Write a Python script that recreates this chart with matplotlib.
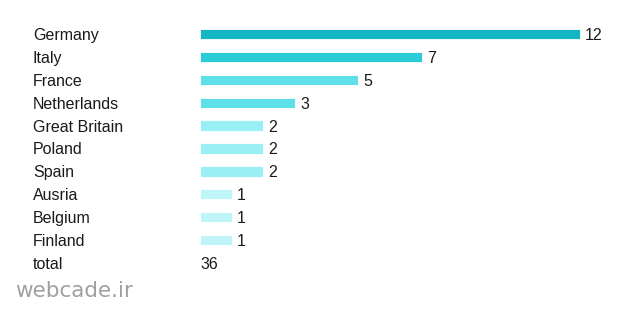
import matplotlib
matplotlib.use("Agg")
import matplotlib.pyplot as plt

countries = ["Germany", "Italy", "France", "Netherlands", "Great Britain",
             "Poland", "Spain", "Ausria", "Belgium", "Finland"]
values = [12, 7, 5, 3, 2, 2, 2, 1, 1, 1]
colors = ["#13b6c1", "#2bccd8", "#5fdfe7", "#5fdfe7", "#98eff4",
          "#98eff4", "#98eff4", "#bff5f8", "#bff5f8", "#bff5f8"]
total_label = "total"
total_value = 36

plt.rcParams['font.family'] = ['Liberation Sans', 'DejaVu Sans']

W, H = 630, 312
fig = plt.figure(figsize=(W / 100, H / 100), dpi=100)
ax = fig.add_axes([0, 0, 1, 1])
ax.set_axis_off()

px_per_unit = 31.65
x0 = 200
row0 = 34
row_h = 22.9
ax.set_xlim(-x0 / px_per_unit, (W - x0) / px_per_unit)
ax.set_ylim((H - row0) / row_h, -row0 / row_h)

ys = list(range(len(countries)))
ax.barh(ys, values, height=0.45, color=colors, edgecolor="white", linewidth=0.6)

fs = 11.5
dy = 6.0 / row_h  # baseline offset below bar centre
for y, name, v in zip(ys, countries, values):
    ax.text(33 / W, y + dy, name, transform=ax.get_yaxis_transform(),
            ha="left", va="baseline", fontsize=fs, color="#1a1a1a")
    ax.text(v + 0.17, y + dy, str(v), ha="left", va="baseline", fontsize=fs, color="#1a1a1a")

ty = len(countries)
ax.text(33 / W, ty + dy, total_label, transform=ax.get_yaxis_transform(),
        ha="left", va="baseline", fontsize=fs, color="#1a1a1a")
ax.text(0, ty + dy, str(total_value), ha="left", va="baseline", fontsize=fs, color="#1a1a1a")

fig.text(15 / W, 1 - 291 / H, "webcade.ir", ha="left", va="center",
         fontsize=15.5, color="#a0a0a0", family="DejaVu Sans")

fig.savefig("out.png", dpi=100)
